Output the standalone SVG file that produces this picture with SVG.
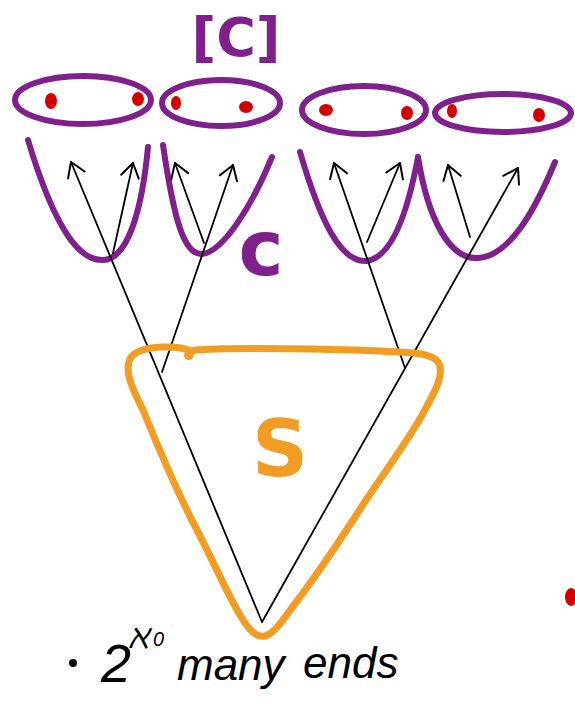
<svg xmlns="http://www.w3.org/2000/svg" width="575" height="718" viewBox="0 0 575 718">
<style>
.pur{fill:none;stroke:#80208c;stroke-width:6;stroke-linecap:round;stroke-linejoin:round}
.dot{fill:#d40000}
.br{fill:none;stroke:#000;stroke-width:1.8;stroke-linecap:round}
.arr{marker-end:url(#ah)}
.lbl{font-family:"DejaVu Sans",sans-serif;font-weight:bold}
.hand{font-family:"Liberation Sans",sans-serif;font-style:italic;fill:#000}
</style>
<defs>
<marker id="ah" markerUnits="userSpaceOnUse" markerWidth="30" markerHeight="30" refX="0" refY="0" viewBox="-20 -15 30 30" orient="auto">
<path d="M-14,-9 L0,0 L-14,9" fill="none" stroke="#000" stroke-width="2" stroke-linecap="round" stroke-linejoin="round"/>
</marker>
</defs>
<rect width="575" height="718" fill="#fff"/>
<g id="ends">
<ellipse class="pur" cx="83" cy="100" rx="68" ry="24"/>
<ellipse class="pur" cx="221" cy="103" rx="59" ry="23"/>
<ellipse class="pur" cx="364" cy="110" rx="62" ry="24"/>
<ellipse class="pur" cx="503" cy="113" rx="68" ry="19"/>
<ellipse class="dot" cx="51" cy="101" rx="6" ry="8"/>
<ellipse class="dot" cx="138" cy="99" rx="6" ry="7"/>
<ellipse class="dot" cx="176" cy="103" rx="5" ry="7"/>
<ellipse class="dot" cx="246" cy="107" rx="7" ry="6"/>
<ellipse class="dot" cx="326" cy="110" rx="7" ry="6"/>
<ellipse class="dot" cx="407" cy="113" rx="6" ry="7"/>
<ellipse class="dot" cx="452" cy="111" rx="5" ry="7"/>
<ellipse class="dot" cx="539" cy="115" rx="6" ry="7"/>
<ellipse class="dot" cx="571" cy="597" rx="6" ry="9"/>
</g>
<g id="label-C-bracket">
<text class="lbl" x="236" y="56" font-size="54" fill="#80208c" text-anchor="middle">[C]</text>
</g>
<g id="cups">
<path class="pur" d="M28,140 C55,230 80,262 104,260 C128,258 142,210 148,147"/>
<path class="pur" d="M163,145 C174,220 184,255 202,254 C222,252 250,210 272,157"/>
<path class="pur" d="M300,152 C320,220 340,262 366,261 C395,258 410,200 418,157"/>
<path class="pur" d="M418,157 C428,220 450,260 478,258 C510,256 535,210 555,162"/>
</g>
<g id="label-C">
<text class="lbl" x="261" y="275" font-size="76" fill="#80208c" text-anchor="middle">c</text>
</g>
<g id="tree">
<line class="br arr" x1="262" y1="622" x2="71" y2="162"/>
<line class="br arr" x1="113" y1="253" x2="133" y2="163"/>
<line class="br arr" x1="162" y1="372" x2="233" y2="165"/>
<line class="br arr" x1="204" y1="243" x2="175" y2="163"/>
<line class="br arr" x1="262" y1="622" x2="518" y2="168"/>
<line class="br arr" x1="470" y1="237" x2="448" y2="165"/>
<line class="br arr" x1="405" y1="368" x2="334" y2="163"/>
<line class="br arr" x1="367" y1="242" x2="400" y2="163"/>
</g>
<g id="S">
<path d="M192,352 C184,345 142,344 131,357 C122,372 136,395 143,410 C156,442 176,490 197,530 C215,565 228,595 240,615 C250,632 257,638 265,636 C276,633 286,615 300,597 C320,570 340,540 355,517 C375,485 402,450 421,417 C433,395 446,374 438,362 C430,352 410,353 380,351 C320,349 250,347 196,350 C186,352 186,358 190,356" fill="none" stroke="#f39c24" stroke-width="7" stroke-linecap="round" stroke-linejoin="round"/>
<text class="lbl" x="280" y="476" font-size="78" fill="#f39c24" text-anchor="middle" font-weight="normal">S</text>
</g>
<g id="caption">
<circle cx="73" cy="663" r="4" fill="#000"/>
<text class="hand" x="101" y="682" font-size="54">2</text>
<text class="hand" x="128" y="648" font-size="34">ℵ</text>
<text class="hand" x="153" y="646" font-size="20">0</text>
<text class="hand" x="177" y="680" font-size="44">many</text>
<text class="hand" x="303" y="678" font-size="44">ends</text>
</g>
</svg>
